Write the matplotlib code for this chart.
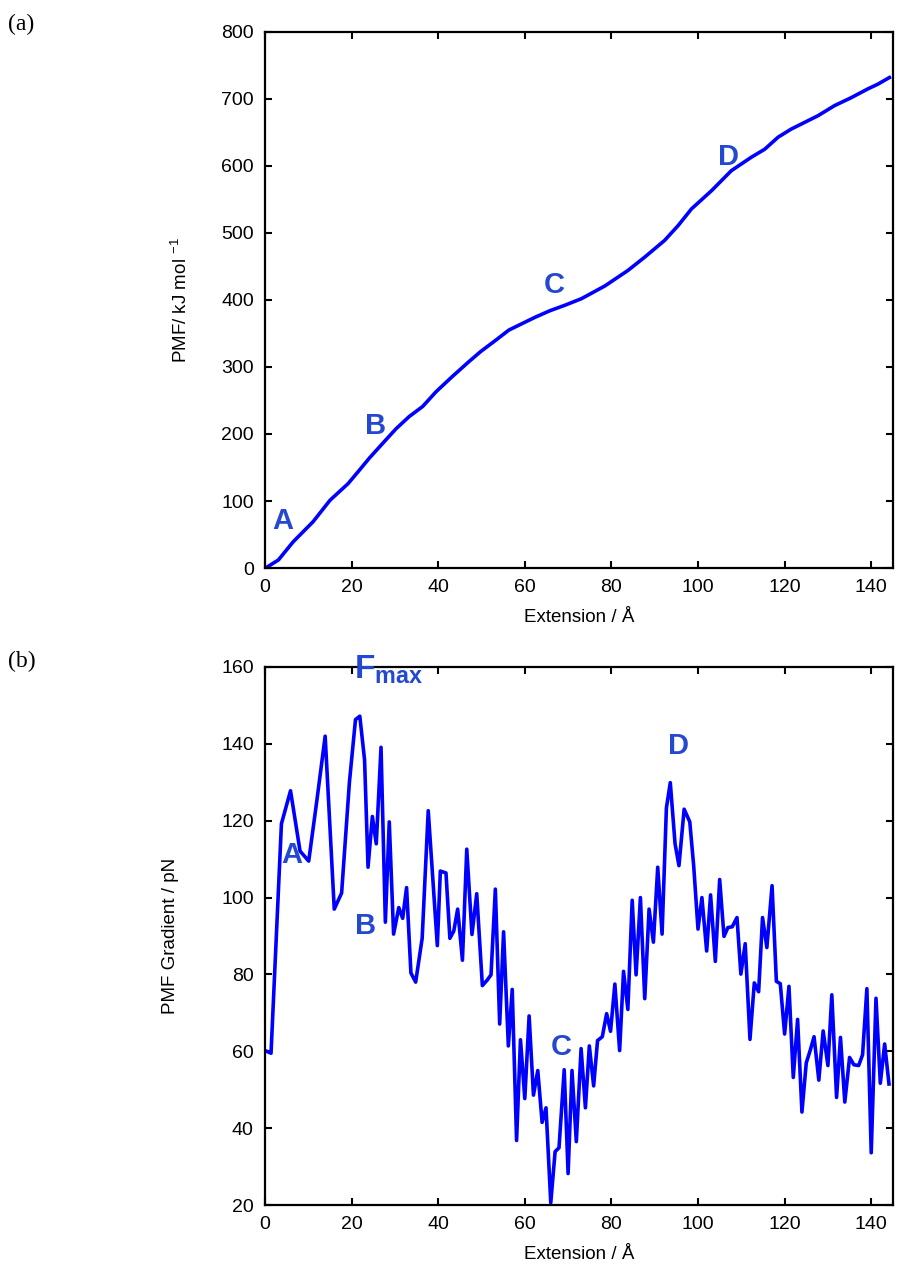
import matplotlib
matplotlib.use('Agg')
import matplotlib.pyplot as plt

# (a) PMF vs extension
ext_a = [0.4, 3.1, 6.5, 11.1, 15.0, 19.2, 21.8, 24.1, 27.6, 30.3, 33.3, 36.4, 39.5,
         43.3, 47.1, 49.8, 53.3, 56.3, 58.5, 62.3, 65.8, 69.2, 73.1, 78.5, 83.8,
         87.7, 92.3, 95.4, 98.5, 103.1, 107.7, 112.3, 115.4, 118.5, 121.5, 124.6,
         127.7, 131.5, 135.4, 139.2, 141.5, 144.2]
pmf = [1, 12, 39, 69, 101, 126, 146, 164, 189, 208, 226, 241, 263,
       286, 308, 323, 340, 355, 362, 374, 384, 392, 402, 421, 444,
       464, 489, 511, 536, 563, 593, 613, 625, 643, 655, 665,
       675, 690, 702, 715, 722, 732]

# (b) PMF gradient vs extension
ext_b = [0.4, 1.4, 3.8, 5.9, 8.1, 10.1, 12.0, 13.9, 16.0, 17.7, 19.5, 20.9, 21.9,
         23.0, 23.8, 24.8, 25.7, 26.8, 27.8, 28.7, 29.7, 30.9, 31.8, 32.7, 33.7,
         34.8, 36.3, 37.7, 39.8, 40.5, 41.8, 42.7, 43.6, 44.5, 45.6, 46.6, 47.8,
         48.9, 50.2, 51.3, 52.2, 53.2, 54.2, 55.1, 56.2, 57.1, 58.1, 59.0, 60.0,
         61.0, 62.0, 63.0, 64.0, 64.9, 66.0, 67.0, 67.9, 69.1, 70.0, 70.9, 71.9,
         73.0, 74.0, 74.9, 75.9, 76.8, 77.9, 78.9, 79.8, 80.8, 81.9, 82.8, 83.8,
         84.8, 85.7, 86.7, 87.7, 88.7, 89.7, 90.7, 91.7, 92.7, 93.6, 94.7, 95.6,
         96.8, 98.1, 99.0, 100.0, 100.9, 102.0, 102.9, 104.0, 105.0, 106.0, 106.9,
         107.9, 109.0, 109.9, 110.9, 112.0, 113.0, 114.0, 114.9, 115.9, 117.1,
         118.1, 119.0, 120.0, 121.0, 122.0, 123.0, 124.0, 125.0, 125.9, 126.8,
         127.9, 128.9, 130.0, 130.9, 132.0, 132.9, 133.9, 135.0, 136.0, 137.1,
         138.0, 139.0, 140.0, 141.1, 142.1, 143.1, 144.1]
grad = [60, 59.5, 119.2, 127.8, 112.1, 109.5, 125.4, 142, 97, 101.2, 130, 146.3, 147.2,
        135.8, 107.9, 121.1, 114, 139.1, 93.6, 119.7, 90.5, 97.4, 94.6, 102.6, 80.4,
        78, 89.4, 122.6, 87.5, 106.9, 106.4, 89.4, 91.3, 97, 83.7, 112.6, 90.4,
        101, 77.1, 78.5, 79.9, 102.2, 67.1, 91.1, 61.4, 76.1, 36.8, 63, 47.7,
        69.2, 48.6, 55, 41.5, 45.3, 20.6, 33.9, 34.9, 55.2, 28.2, 55, 36.5,
        60.7, 45.3, 61.4, 51, 62.8, 63.8, 69.8, 65.2, 77.5, 60.2, 80.8, 70.9,
        99.3, 79.9, 100, 73.7, 97, 88.4, 107.9, 90.5, 123.3, 129.9, 114, 108.3,
        123, 119.7, 108.3, 91.8, 100, 86.1, 100.7, 83.4, 104.7, 89.9, 92.2,
        92.4, 94.8, 80.1, 88, 63.1, 77.8, 75.5, 94.8, 87, 103.1,
        78.2, 77.6, 64.5, 76.9, 53.2, 68.3, 44.2, 57, 60.2, 63.8,
        52.5, 65.3, 56.3, 74.7, 48, 63.6, 46.8, 58.4, 56.5, 56.3,
        59.1, 76.3, 33.6, 73.8, 51.7, 61.9, 51.5]

# labels on the curves
labels_a = ['A', 'B', 'C', 'D']
lab_a_x = [4.1, 25.5, 66.9, 107.1]
lab_a_y = [70, 212, 422, 613]
labels_b = ['A', 'B', 'C', 'D']
lab_b_x = [6.2, 23.2, 68.5, 95.4]
lab_b_y = [111, 92.5, 61, 139.5]

plt.rcParams['font.family'] = ['Liberation Sans', 'DejaVu Sans']
plt.rcParams['mathtext.fontset'] = 'custom'
plt.rcParams['mathtext.bf'] = 'Liberation Sans:bold'
plt.rcParams['mathtext.rm'] = 'Liberation Sans'

line_col = '#0000ff'
lab_col = '#2448d0'

fig = plt.figure(figsize=(8.97, 12.69), dpi=100)
ax1 = fig.add_axes([0.2954, 0.5524, 0.7, 0.4224])
ax2 = fig.add_axes([0.2954, 0.0504, 0.7, 0.424])

ax1.plot(ext_a, pmf, color=line_col, lw=2.6)
ax1.set_xlim(0, 145)
ax1.set_ylim(0, 800)
ax1.set_yticks(range(0, 801, 100))
ax1.set_xlabel('Extension / Å', fontsize=13.5, labelpad=9)
ax1.set_ylabel('PMF/ kJ mol $^{-1}$', fontsize=13.5, labelpad=22)
for t, x, y in zip(labels_a, lab_a_x, lab_a_y):
    ax1.text(x, y, t, color=lab_col, fontsize=21, fontweight='bold', ha='center', va='center')

ax2.plot(ext_b, grad, color=line_col, lw=2.6)
ax2.set_xlim(0, 145)
ax2.set_ylim(20, 160)
ax2.set_yticks(range(20, 161, 20))
ax2.set_xlabel('Extension / Å', fontsize=13.5, labelpad=9)
ax2.set_ylabel('PMF Gradient / pN', fontsize=13.5, labelpad=30)
for t, x, y in zip(labels_b, lab_b_x, lab_b_y):
    ax2.text(x, y, t, color=lab_col, fontsize=21, fontweight='bold', ha='center', va='center')
ax2.text(20.6, 157.0, r'$\mathbf{F_{max}}$', color=lab_col, fontsize=24,
         ha='left', va='baseline')

for ax in (ax1, ax2):
    ax.set_xticks(range(0, 141, 20))
    ax.tick_params(direction='in', length=5, width=1.5, labelsize=14,
                   top=True, right=True, pad=8)
    for s in ax.spines.values():
        s.set_linewidth(1.6)

fig.text(0.009, 0.981, '(a)', family='Liberation Serif', fontsize=17, va='center')
fig.text(0.009, 0.479, '(b)', family='Liberation Serif', fontsize=17, va='center')

fig.savefig('out.png', dpi=100)
